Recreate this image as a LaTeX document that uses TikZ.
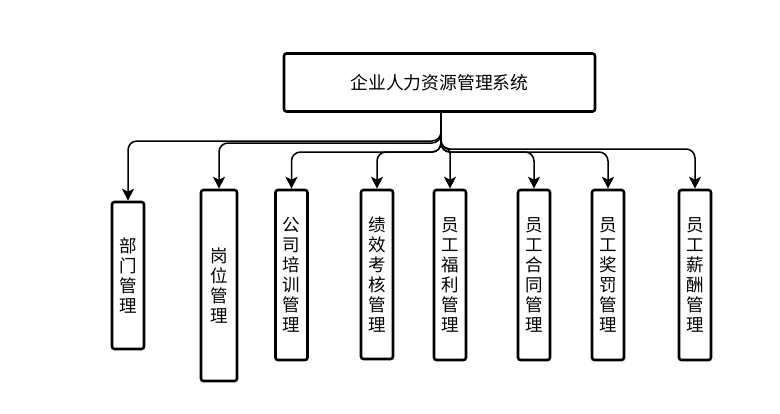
\documentclass[tikz,border=0pt]{standalone}
\usepackage{fontspec}
\setmainfont{Noto Sans CJK SC}
\usetikzlibrary{arrows.meta,positioning}
\begin{document}
\begin{tikzpicture}[x=1pt,y=-1pt,
  box/.style={draw, line width=2.6pt, rounded corners=2.5pt, fill=white, inner sep=0pt},
  child/.style={box, minimum width=32pt, align=center, font=\fontsize{17.5}{20}\selectfont},
  conn/.style={draw, line width=1.5pt, rounded corners=9pt, -{Stealth[length=12pt,width=12pt,inset=3pt]}}]
\useasboundingbox (0,0) rectangle (780,413);
\node[box, minimum width=311pt, minimum height=58pt, font=\fontsize{17.8}{20}\selectfont] (root) at (439.5,82.5) {企业人力资源管理系统};
\node[child, minimum height=147pt] (c1) at (128,275.5) {部\\门\\管\\理};
\node[child, minimum width=36pt, minimum height=191pt] (c2) at (219,285.5) {岗\\位\\管\\理};
\node[child, minimum height=170pt] (c3) at (291.5,275) {公\\司\\培\\训\\管\\理};
\node[child, minimum height=169pt] (c4) at (377,274.5) {绩\\效\\考\\核\\管\\理};
\node[child, minimum height=170pt] (c5) at (450,275) {员\\工\\福\\利\\管\\理};
\node[child, minimum height=170pt] (c6) at (534,275) {员\\工\\合\\同\\管\\理};
\node[child, minimum height=170pt] (c7) at (608,275) {员\\工\\奖\\罚\\管\\理};
\node[child, minimum height=170pt] (c8) at (695,275) {员\\工\\薪\\酬\\管\\理};
\coordinate (s) at (441,112);
\coordinate (h1) at (0,141);
\coordinate (h2) at (0,143);
\coordinate (h3) at (0,152);
\coordinate (h5) at (0,148);
\coordinate (h8) at (0,149);
\draw[conn] (s) |- (c1.north |- h1) -- (c1.north);
\draw[conn] (s) |- (c2.north |- h2) -- (c2.north);
\draw[conn] (s) |- (c3.north |- h3) -- (c3.north);
\draw[conn] (s) |- (c4.north |- h3) -- (c4.north);
\draw[conn, rounded corners=5pt] (s) |- (c5.north |- h5) -- (c5.north);
\draw[conn] (s) |- (c6.north |- h3) -- (c6.north);
\draw[conn] (s) |- (c7.north |- h3) -- (c7.north);
\draw[conn] (s) |- (c8.north |- h8) -- (c8.north);
\end{tikzpicture}
\end{document}
